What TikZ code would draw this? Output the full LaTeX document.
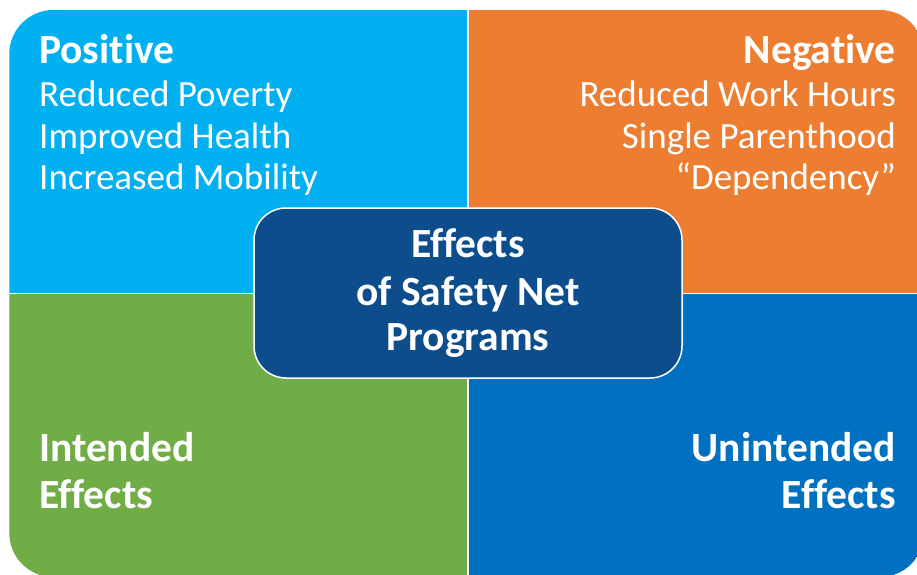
\documentclass[tikz,border=0pt]{standalone}
\usepackage{fontspec}
\setmainfont{Carlito}[Ligatures={NoCommon,NoRare}]
\definecolor{posblue}{HTML}{00B0F0}
\definecolor{negorange}{HTML}{ED7D31}
\definecolor{intgreen}{HTML}{70AD47}
\definecolor{unblue}{HTML}{0070C0}
\definecolor{coreblue}{HTML}{0E4D8B}
\begin{document}
\begin{tikzpicture}[x=1pt,y=-1pt,
  headtext/.style={text=white,inner sep=0pt,font=\fontsize{41.5}{48}\selectfont\bfseries},
  itemtext/.style={text=white,inner sep=0pt,font=\fontsize{37}{42}\selectfont},
  coretext/.style={text=white,inner sep=0pt,font=\fontsize{41.5}{48}\selectfont\bfseries}]
\useasboundingbox (0,0) rectangle (917,574);
\fill[white] (0,0) rectangle (917,574);

% four quadrants, clipped to one rounded outline
\begin{scope}
  \clip[rounded corners=44pt] (9.3,10) rectangle (924,577);
  \fill[posblue]   (0,0)     rectangle (467,292.7);
  \fill[negorange] (469,0)   rectangle (930,292.7);
  \fill[intgreen]  (0,294.3) rectangle (467,580);
  \fill[unblue]    (469,294.3) rectangle (930,580);
\end{scope}

% upper left: positive effects
\node[headtext,anchor=base west] (pos) at (39,63.5) {Positive};
\node[itemtext,anchor=base west] (pos1) at (39,106) {Reduced Poverty};
\node[itemtext,anchor=base west] (pos2) at (39,148) {Improved Health};
\node[itemtext,anchor=base west] (pos3) at (39,189) {Increased Mobility};

% upper right: negative effects
\node[headtext,anchor=base east] (neg) at (896,63.5) {Negative};
\node[itemtext,anchor=base east] (neg1) at (896,106) {Reduced Work Hours};
\node[itemtext,anchor=base east] (neg2) at (896,148) {Single Parenthood};
\node[itemtext,anchor=base east] (neg3) at (896,189) {“Dependency”};

% lower quadrants
\node[headtext,anchor=base west] (int1) at (39,461) {Intended};
\node[headtext,anchor=base west] (int2) at (39,508) {Effects};
\node[headtext,anchor=base east] (un1) at (896,461) {Unintended};
\node[headtext,anchor=base east] (un2) at (896,508) {Effects};

% central box
\draw[white,line width=1.5pt,fill=coreblue,rounded corners=32pt]
  (254,208) rectangle (682,378);
\node[coretext,anchor=base] (core1) at (468,257) {Effects};
\node[coretext,anchor=base] (core2) at (468,305.5) {of Safety Net};
\node[coretext,anchor=base] (core3) at (468,350) {Programs};
\end{tikzpicture}
\end{document}
